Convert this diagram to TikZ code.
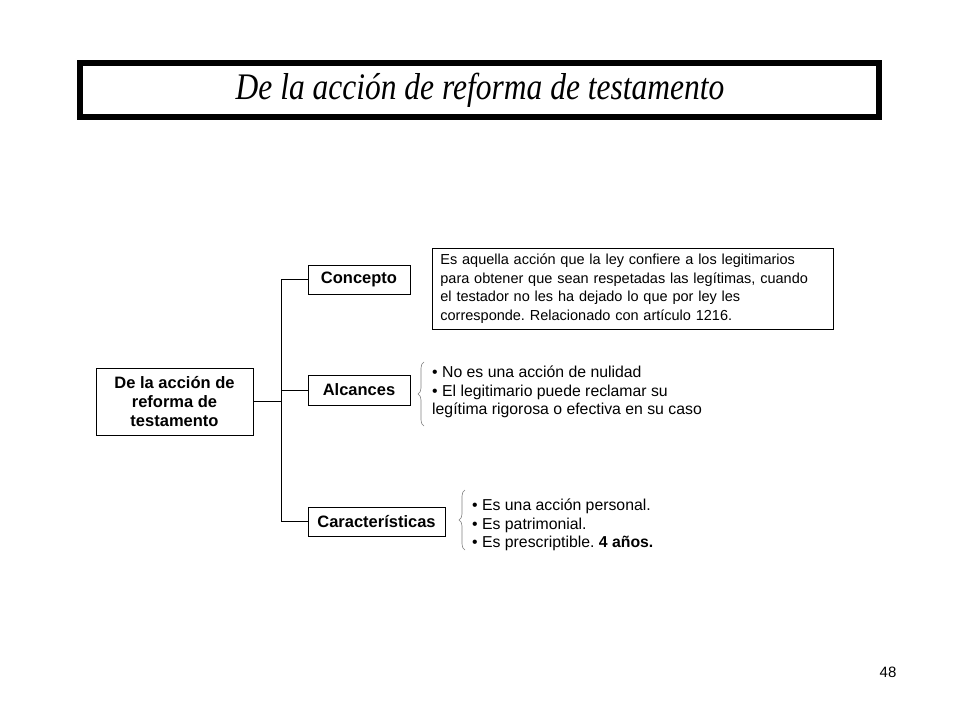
\documentclass[tikz,border=0pt]{standalone}
\usepackage{fontspec}
\setmainfont{Liberation Sans}
\newfontfamily\titlefont{Liberation Serif}
\usepackage{tikz}
\usetikzlibrary{positioning,calc,decorations.pathreplacing}
\definecolor{linec}{HTML}{000000}
\definecolor{bracec}{HTML}{7F7F7F}
\frenchspacing
\tikzset{
  catbox/.style={draw=linec,line width=0.8pt,font=\fontsize{16.5}{19}\selectfont\bfseries,inner sep=0pt,align=center},
  listtxt/.style={anchor=north west,align=left,inner sep=0pt,font=\fontsize{15.8}{18.5}\selectfont},
  lbrace/.style={bracec,line width=0.6pt,decorate,decoration={brace,amplitude=6pt}}
}
\begin{document}
\begin{tikzpicture}[x=1pt,y=-1pt]
  \useasboundingbox (0,0) rectangle (960,720);
  % title
  \draw[line width=6pt] (80,63) rectangle (879,117);
  \node (title) at (480,90) {\scalebox{0.84}[1]{\titlefont\itshape\fontsize{37.5}{40}\selectfont De la acción de reforma de testamento}};
  % boxes
  \node[catbox,minimum width=157pt,minimum height=67pt] (root) at (174.5,401.5) {De la acción de\\reforma de\\testamento};
  \node[catbox,minimum width=102pt,minimum height=29pt] (concepto) at (359,279.5) {Concepto};
  \node[catbox,minimum width=102pt,minimum height=30pt] (alcances) at (359,390) {Alcances};
  \node[catbox,minimum width=137pt,minimum height=29pt] (caract) at (376.5,521.5) {Características};
  % connectors
  \draw[line width=1.6pt] (root.east) -- ++(28,0) coordinate (hub);
  \draw[line width=0.8pt] (hub |- concepto) -- (hub |- caract);
  \foreach \n in {concepto,alcances,caract}
     \draw[line width=0.8pt] (hub |- \n) -- (\n.west);
  % definition
  \node[draw,line width=0.8pt,anchor=north west,align=left,inner sep=0pt,
        minimum width=401pt,minimum height=81pt,text width=385pt,
        font=\fontsize{14.5}{18.5}\selectfont] (defn) at (432,248)
     {Es aquella acción que la ley confiere a los legitimarios\\
      para obtener que sean respetadas las legítimas, cuando\\
      el testador no les ha dejado lo que por ley les\\
      corresponde. Relacionado con artículo 1216.};
  % alcances list
  \node[listtxt] (alcList) at (432,366)
     {• No es una acción de nulidad\\
      • El legitimario puede reclamar su\\
      legítima rigorosa o efectiva en su caso};
  \draw[lbrace] (424,426) -- (424,362);
  % caracteristicas list
  \node[listtxt] (caractList) at (472,499)
     {• Es una acción personal.\\
      • Es patrimonial.\\
      • Es prescriptible. \textbf{4 años.}};
  \draw[lbrace] (465,550) -- (465,490);
  \node[font=\fontsize{15}{17}\selectfont] (pagenum) at (888,672) {48};
\end{tikzpicture}
\end{document}
